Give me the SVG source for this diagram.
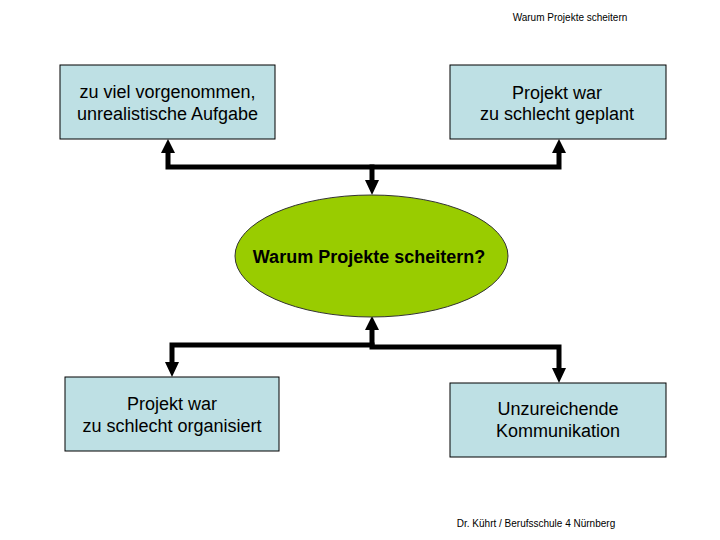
<svg xmlns="http://www.w3.org/2000/svg" width="720" height="540" viewBox="0 0 720 540">
<style>
.box{fill:#BEE0E4;stroke:#000;stroke-width:1}
.t{font-family:"Liberation Sans",Arial,sans-serif;font-size:18px;fill:#000;text-anchor:middle}
.tb{font-family:"Liberation Sans",Arial,sans-serif;font-size:18px;font-weight:bold;fill:#000;text-anchor:middle}
.s{font-family:"Liberation Sans",Arial,sans-serif;font-size:10px;fill:#000;text-anchor:middle}
.ln{fill:none;stroke:#000;stroke-width:5;stroke-linejoin:miter;stroke-linecap:square}
.ah{fill:#000}
</style>
<rect width="720" height="540" fill="#fff"/>
<text class="s" x="570" y="21">Warum Projekte scheitern</text>
<text class="s" x="536" y="527">Dr. Kührt / Berufsschule 4 Nürnberg</text>
<g id="connectors">
<polyline class="ln" points="168,152 168,167 559,167 559,152"/>
<line class="ln" x1="372" y1="167" x2="372" y2="180"/>
<polygon class="ah" points="161,153 175,153 168,139"/>
<polygon class="ah" points="552,153 566,153 559,139"/>
<polygon class="ah" points="365,180 379,180 372,195"/>
<polyline class="ln" points="372,331 372,347 559,347 559,368"/>
<polyline class="ln" points="372,345 172,345 172,362"/>
<polygon class="ah" points="365,330 379,330 372,316"/>
<polygon class="ah" points="165,362 179,362 172,377"/>
<polygon class="ah" points="552,368 566,368 559,383"/>
</g>
<g id="n1">
<rect class="box" x="60" y="65" width="215" height="74"/>
<text class="t" x="167.5" y="98">zu viel vorgenommen,</text>
<text class="t" x="167.5" y="120">unrealistische Aufgabe</text>
</g>
<g id="n2">
<rect class="box" x="450" y="65" width="216" height="74"/>
<text class="t" x="557" y="99">Projekt war</text>
<text class="t" x="557" y="120">zu schlecht geplant</text>
</g>
<g id="center">
<ellipse cx="371.5" cy="256" rx="136.5" ry="61" fill="#99CC00" stroke="#333" stroke-width="1"/>
<text class="tb" x="369" y="263">Warum Projekte scheitern?</text>
</g>
<g id="n3">
<rect class="box" x="65" y="377" width="214" height="74"/>
<text class="t" x="172" y="410">Projekt war</text>
<text class="t" x="172" y="432">zu schlecht organisiert</text>
</g>
<g id="n4">
<rect class="box" x="450" y="383" width="216" height="74"/>
<text class="t" x="558" y="415">Unzureichende</text>
<text class="t" x="558" y="437">Kommunikation</text>
</g>
</svg>
